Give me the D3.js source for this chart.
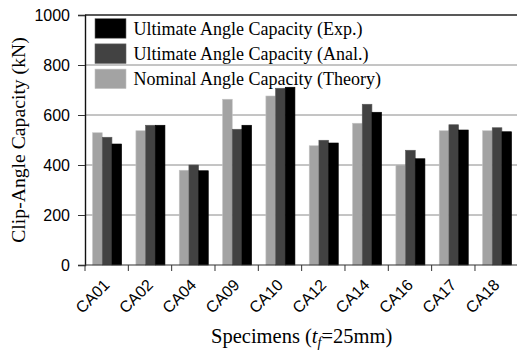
<!DOCTYPE html>
<html>
<head>
<meta charset="utf-8">
<script src="https://cdn.jsdelivr.net/npm/d3@7"></script>
<style>
  html, body { margin: 0; padding: 0; background: #fff; }
  svg { display: block; }
  .serif { font-family: "Liberation Serif", "Times New Roman", Times, serif; }
  .sans { font-family: "Liberation Sans", Arial, Helvetica, sans-serif; }
</style>
</head>
<body>
<svg id="chart" width="517" height="360"></svg>
<script>
const categories = ["CA01","CA02","CA04","CA09","CA10","CA12","CA14","CA16","CA17","CA18"];
const nominalTheory = [529, 537, 379, 663, 676, 477, 567, 400, 537, 537];
const ultimateAnal  = [511, 559, 400, 543, 707, 499, 643, 459, 561, 549];
const ultimateExp   = [484, 559, 377, 559, 711, 488, 611, 425, 540, 533];
const yTicks = [0, 200, 400, 600, 800, 1000];
const seriesNames = ["Nominal Angle Capacity (Theory)", "Ultimate Angle Capacity (Anal.)", "Ultimate Angle Capacity (Exp.)"];
const legendOrder = ["Ultimate Angle Capacity (Exp.)", "Ultimate Angle Capacity (Anal.)", "Nominal Angle Capacity (Theory)"];

(function () {
const seriesValues = [nominalTheory, ultimateAnal, ultimateExp];
const colors = { "Nominal Angle Capacity (Theory)": "#a3a3a3", "Ultimate Angle Capacity (Anal.)": "#424242", "Ultimate Angle Capacity (Exp.)": "#000000" };

const svg = d3.select("#chart");
const mLeft = 85, mRight = 518.3, mTop = 15, mBottom = 265;

const x = d3.scaleBand().domain(categories).range([mLeft, mRight]).paddingInner(0).paddingOuter(0);
const bw = x.bandwidth();
const xs = d3.scaleBand().domain(seriesNames).range([bw * 0.175, bw * 0.845]);
const y = d3.scaleLinear().domain([0, 1000]).range([mBottom, mTop]);

// gridlines
svg.append("g").selectAll("line").data(yTicks.filter(t => t > 0 && t < 1000)).join("line")
  .attr("x1", mLeft).attr("x2", 517).attr("y1", d => y(d)).attr("y2", d => y(d))
  .attr("stroke", "#8a8a8a").attr("stroke-width", 1);
// top border
svg.append("line").attr("x1", mLeft).attr("x2", 517).attr("y1", y(1000)).attr("y2", y(1000))
  .attr("stroke", "#222").attr("stroke-width", 1.6);

// bars
const data = [];
categories.forEach((c, i) => seriesNames.forEach((s, k) => data.push({ c, s, v: seriesValues[k][i] })));
svg.append("g").selectAll("rect").data(data).join("rect")
  .attr("x", d => x(d.c) + xs(d.s))
  .attr("width", xs.bandwidth())
  .attr("y", d => y(d.v))
  .attr("height", d => y(0) - y(d.v))
  .attr("fill", d => colors[d.s])
  .attr("stroke", d => d.s === seriesNames[0] ? "#c4c4c4" : (d.s === seriesNames[1] ? "#5a5a5a" : "#000"))
  .attr("stroke-width", 0.6);

// y axis
const yAxis = svg.append("g").attr("transform", `translate(${mLeft},0)`)
  .call(d3.axisLeft(y).tickValues(yTicks).tickSize(7).tickPadding(8).tickFormat(d3.format("d")));
yAxis.attr("font-family", null);
yAxis.select(".domain").attr("stroke", "#111").attr("stroke-width", 1.4);
yAxis.selectAll(".tick line").attr("stroke", "#333");
yAxis.selectAll("text").attr("class", "sans").attr("font-size", 16).attr("fill", "#000");

// x axis
const xAxis = svg.append("g").attr("transform", `translate(0,${mBottom})`)
  .call(d3.axisBottom(x).tickSize(0).tickPadding(0));
xAxis.select(".domain").remove();
xAxis.attr("font-family", null);
svg.append("line").attr("x1", mLeft).attr("x2", 517).attr("y1", mBottom).attr("y2", mBottom).attr("stroke", "#333").attr("stroke-width", 1.2);
svg.append("g").selectAll("line").data(categories).join("line")
  .attr("x1", d => x(d)).attr("x2", d => x(d)).attr("y1", mBottom).attr("y2", mBottom + 6)
  .attr("stroke", "#333");
xAxis.selectAll(".tick text")
  .attr("class", "sans").attr("font-size", 16).attr("fill", "#000")
  .attr("text-anchor", "end")
  .attr("y", 0).attr("dy", 0)
  .attr("transform", `translate(4,21) rotate(-45)`);

// axis titles
svg.append("text").attr("class", "serif").attr("x", (mLeft + mRight) / 2).attr("y", 343)
  .attr("text-anchor", "middle").attr("font-size", 20.5)
  .html('Specimens (<tspan font-style="italic">t</tspan><tspan font-style="italic" font-size="14" dy="4">f</tspan><tspan dy="-4">=25mm)</tspan>');
svg.append("text").attr("class", "serif").attr("transform", `translate(25,${(mTop + mBottom) / 2}) rotate(-90)`)
  .attr("text-anchor", "middle").attr("font-size", 19.7)
  .text("Clip-Angle Capacity (kN)");

// legend
const lg = svg.append("g").attr("transform", "translate(95,18.7)");
const rows = lg.selectAll("g").data(legendOrder).join("g").attr("transform", (d, i) => `translate(0,${i * 25.2})`);
rows.append("rect").attr("width", 31).attr("height", 19.5).attr("fill", d => colors[d])
  .attr("stroke", d => d === seriesNames[0] ? "#c4c4c4" : "#666").attr("stroke-width", 0.6);
rows.append("text").attr("class", "serif").attr("x", 38.5).attr("y", 16.3)
  .attr("font-size", 18).attr("fill", "#000")
  .text(d => d);
})();
</script>
</body>
</html>
